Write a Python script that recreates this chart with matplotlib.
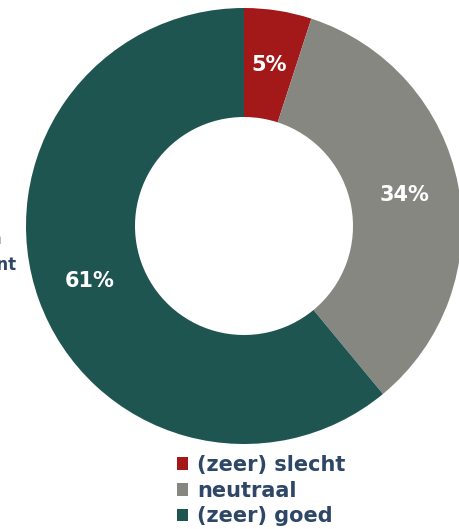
import matplotlib.pyplot as plt

labels = ['(zeer) slecht', 'neutraal', '(zeer) goed']
values = [5, 34, 61]
colors = ['#A31919', '#878782', '#1F5551']
text_col = '#2E4766'

fig = plt.figure(figsize=(4.59, 5.29), dpi=100)
ax = fig.add_axes([26 / 459, 85 / 529, 436 / 459, 436 / 529])

wedges, texts, autotexts = ax.pie(values, colors=colors, startangle=90, counterclock=False,
                                  radius=1, wedgeprops=dict(width=0.5, linewidth=0),
                                  autopct='%1.0f%%', pctdistance=0.75,
                                  textprops=dict(color='white', fontsize=15, fontweight='bold'))
ax.set_xlim(-1, 1)
ax.set_ylim(-1, 1)
ax.set_aspect('equal')

# side label, cut off at the left edge like in the original
fig.text(17 / 459, 1 - 252 / 529, 'Algemeen\nmanagement', ha='right', va='center',
         multialignment='center', color=text_col, fontsize=12, fontweight='bold',
         linespacing=1.5)

leg = fig.legend(wedges, labels, loc='upper left', bbox_to_anchor=(177 / 459, 1 - 455 / 529),
                 frameon=False, handlelength=0.55, handleheight=0.55, handletextpad=0.4,
                 labelspacing=0.27, borderpad=0, borderaxespad=0,
                 prop=dict(size=15, weight='bold'))
for t in leg.get_texts():
    t.set_color(text_col)

fig.savefig('out.png', dpi=100)
